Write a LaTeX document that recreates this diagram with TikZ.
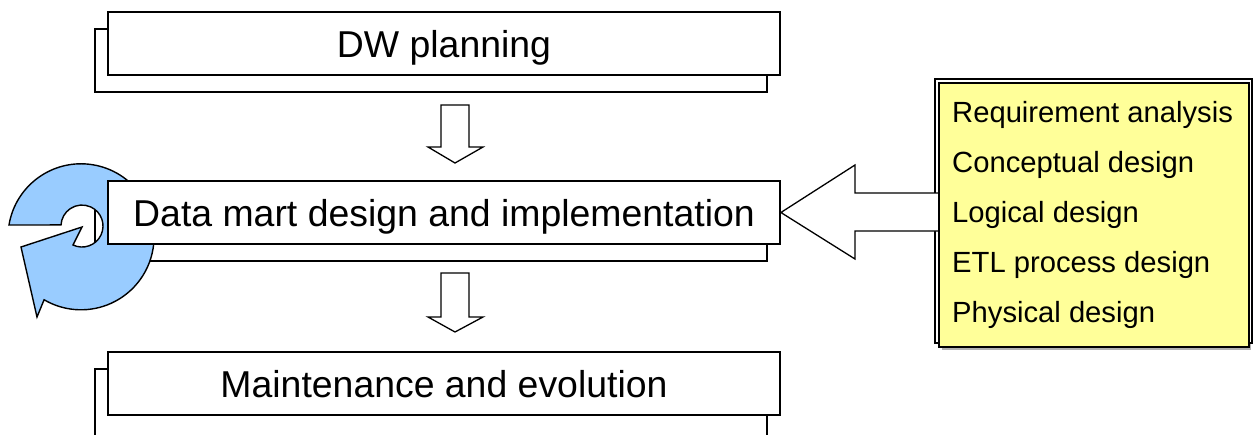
\documentclass[tikz,border=0pt]{standalone}
\usepackage{fontspec}
\setmainfont{Liberation Sans}
\usetikzlibrary{calc}
\definecolor{ringblue}{HTML}{99CCFF}
\definecolor{noteyellow}{HTML}{FFFF99}
\begin{document}
\begin{tikzpicture}[x=1pt,y=-1pt,
  frontbox/.style={draw=black, line width=1.8pt, fill=white, minimum width=672pt, minimum height=63pt, inner sep=0pt, text height=28pt, text depth=0pt, font=\fontsize{37.4}{40}\selectfont},
  backframe/.style={draw=black, line width=1.8pt, fill=white, minimum width=672pt, inner sep=0pt},
  blockarrow/.style={draw=black, line width=1.3pt, fill=white, line join=miter},
  ringarrow/.style={draw=black, line width=1.4pt, fill=ringblue, line join=miter},
  itemtext/.style={anchor=base west, inner sep=0pt, font=\fontsize{29.2}{32}\selectfont}]
\useasboundingbox (0,0) rectangle (1256,434);
\fill[white] (0,0) rectangle (1256,434);
% back frames
\node[backframe, minimum height=63pt] (dwback) at (431,60.5) {};
\node[backframe, minimum height=63pt] (dmback) at (431,229.5) {};
\node[backframe, minimum height=80pt] (meback) at (431,409) {};
% circular arrow
\draw[ringarrow] (9,225) arc[start angle=189.3, end angle=480.4, radius=73]
  -- (37,317) -- (21,247) -- (82,227) -- (73,245)
  arc[start angle=115.4, end angle=-177, radius=21] -- cycle;
% front boxes
\node[frontbox] (dw) at (444,43.5) {DW planning};
\node[frontbox] (dm) at (444,212.5) {Data mart design and implementation};
\node[frontbox] (me) at (444,383.5) {Maintenance and evolution};
% down arrows
\coordinate (a1) at (455,105);
\coordinate (a2) at (455,273);
\draw[blockarrow] (a1) ++(-14,0) -- ++(28,0) -- ++(0,42) -- ++(14,0) -- ++(-28,16) -- ++(-27,-16) -- ++(13,0) -- cycle;
\draw[blockarrow] (a2) ++(-14,0) -- ++(28,0) -- ++(0,44) -- ++(14,0) -- ++(-28,15) -- ++(-27,-15) -- ++(13,0) -- cycle;
% yellow note
\fill[gray!60] (942,86) rectangle (1251,350);
\node[draw=black, line width=1.4pt, fill=white, minimum width=317pt, minimum height=264pt, inner sep=0pt] (noteback) at (1093.5,211) {};
% big arrow
\draw[blockarrow] (dm.east) -- (855,165) -- (855,193) -- (940,193) -- (940,231) -- (855,231) -- (855,259) -- cycle;
\node[draw=black, line width=1.8pt, fill=noteyellow, minimum width=310pt, minimum height=264pt, inner sep=0pt] (note) at (1094,215) {};
\node[itemtext] (t1) at (952,122) {Requirement analysis};
\node[itemtext] (t2) at (952,172) {Conceptual design};
\node[itemtext] (t3) at (952,222) {Logical design};
\node[itemtext] (t4) at (952,272) {ETL process design};
\node[itemtext] (t5) at (952,322) {Physical design};
\end{tikzpicture}
\end{document}
